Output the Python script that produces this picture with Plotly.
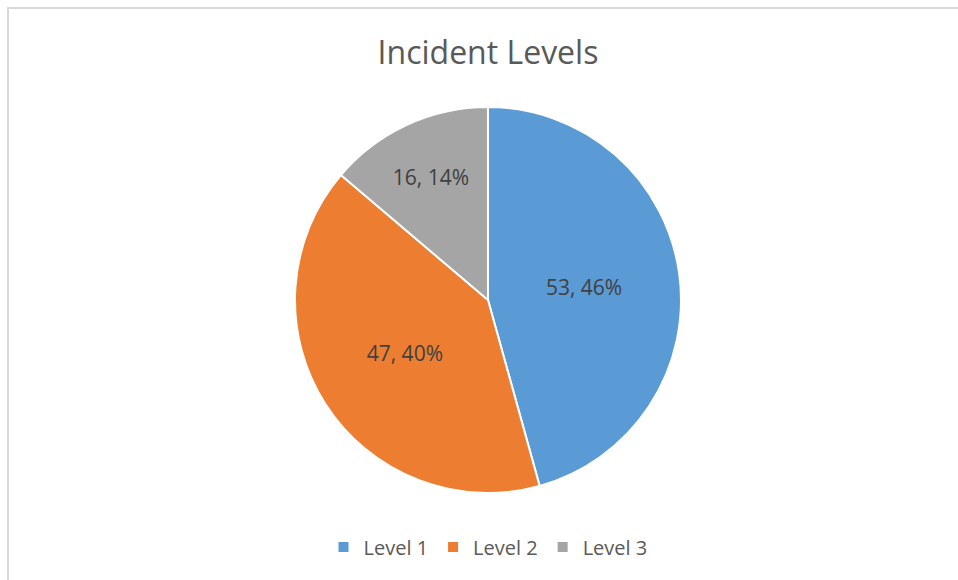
import plotly.graph_objects as go

labels = ["Level 1", "Level 2", "Level 3"]
values = [53, 47, 16]
percent_labels = ["46%", "40%", "14%"]
colors = ["#5B9BD5", "#ED7D31", "#A5A5A5"]

W, H = 958, 580
cx, cy, r = 488, 300, 193

fig = go.Figure(go.Pie(
    labels=labels,
    values=values,
    customdata=percent_labels,
    texttemplate="%{value}, %{customdata}",
    textposition="inside",
    insidetextorientation="horizontal",
    sort=False,
    direction="clockwise",
    rotation=0,
    marker=dict(colors=colors, line=dict(color="white", width=2)),
    textfont=dict(family="Open Sans", size=21, color="#404040"),
    hoverinfo="label+value+percent",
    domain=dict(x=[(cx - r) / W, (cx + r) / W], y=[1 - (cy + r) / H, 1 - (cy - r) / H]),
))

fig.update_layout(
    width=W, height=H,
    margin=dict(l=0, r=0, t=0, b=0),
    paper_bgcolor="white",
    plot_bgcolor="white",
    title=dict(text="Incident Levels", x=cx / W, xanchor="center", y=1 - 53 / H, yanchor="middle",
               font=dict(family="Open Sans", size=32, color="#595959")),
    legend=dict(orientation="h", x=cx / W, xanchor="center", y=1 - 547 / H, yanchor="middle",
                font=dict(family="Open Sans", size=20, color="#595959"), itemsizing="constant",
                traceorder="normal"),
    shapes=[dict(type="rect", xref="paper", yref="paper", x0=8 / W, x1=1.02, y0=-0.02, y1=1 - 8 / H,
                 line=dict(color="#D9D9D9", width=2), layer="below")],
)

fig.write_html("out.html")
